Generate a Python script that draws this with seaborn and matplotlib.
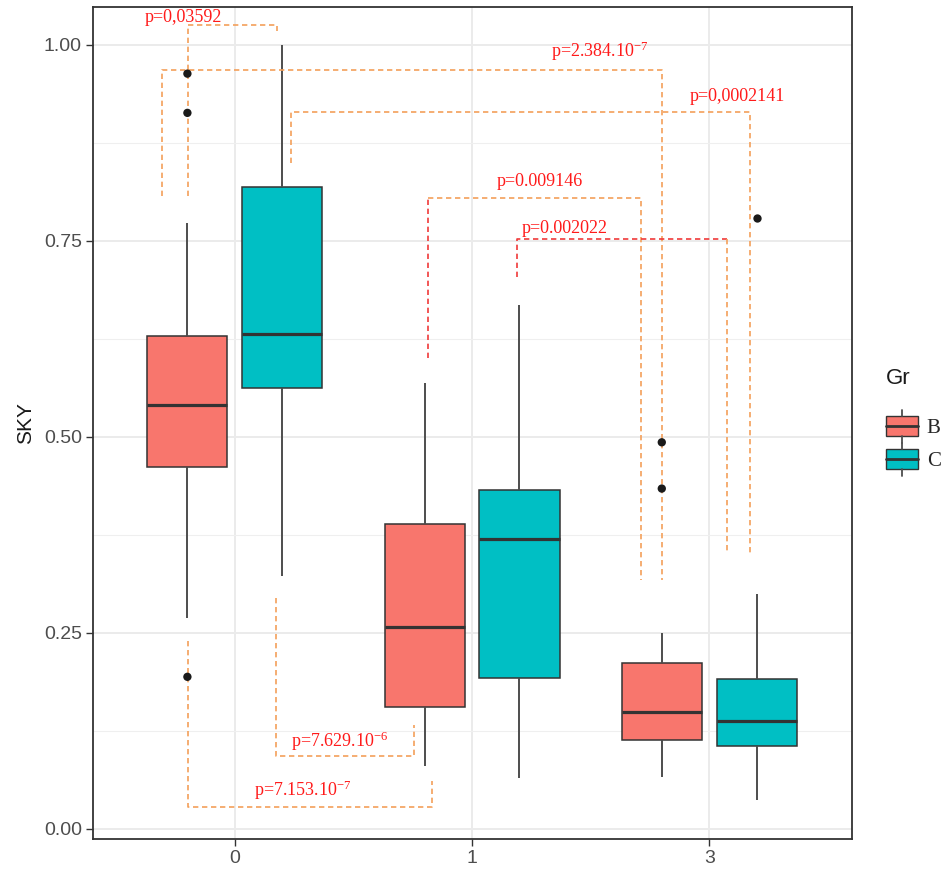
import matplotlib
matplotlib.use("Agg")
import matplotlib.pyplot as plt
import numpy as np
import pandas as pd
import seaborn as sns
from matplotlib.patches import Rectangle, Patch
from matplotlib.lines import Line2D
from matplotlib.legend_handler import HandlerBase
from matplotlib.ticker import MultipleLocator

# ---- data -------------------------------------------------------------
groups = ["0", "1", "3"]
hue_levels = ["B", "C"]

# five-number summaries per group: whisker low, Q1, median, Q3, whisker high
b_low = [0.269, 0.080, 0.066]
b_q1 = [0.462, 0.156, 0.113]
b_med = [0.540, 0.257, 0.149]
b_q3 = [0.628, 0.389, 0.211]
b_high = [0.773, 0.568, 0.250]

c_low = [0.323, 0.065, 0.037]
c_q1 = [0.562, 0.192, 0.106]
c_med = [0.631, 0.370, 0.138]
c_q3 = [0.818, 0.432, 0.191]
c_high = [0.999, 0.668, 0.300]

# outlying observations
out_group = ["0", "0", "0", "3", "3", "3"]
out_gr = ["B", "B", "B", "B", "B", "C"]
out_value = [0.963, 0.913, 0.194, 0.493, 0.434, 0.779]

# pairwise test results
p_labels = [
    "p=0,03592",
    r"p=2.384.10$^{-7}$",
    "p=0,0002141",
    "p=0.009146",
    "p=0.002022",
    r"p=7.629.10$^{-6}$",
    r"p=7.153.10$^{-7}$",
]

# ---- style ------------------------------------------------------------
sns.set_theme(style="white")
plt.rcParams["font.family"] = ["Liberation Sans", "DejaVu Sans"]
plt.rcParams["mathtext.fontset"] = "custom"
plt.rcParams["mathtext.rm"] = "Liberation Serif"
plt.rcParams["mathtext.default"] = "rm"

palette = {"B": "#F8766D", "C": "#00BFC4"}
ORANGE = "#F4A05A"
RED = "#F03A3A"
TEXT_RED = "#FF1A1A"
EDGE = "#333333"

rows = []
summaries = {"B": (b_low, b_q1, b_med, b_q3, b_high),
             "C": (c_low, c_q1, c_med, c_q3, c_high)}
for i, g in enumerate(groups):
    for lvl in hue_levels:
        for stat in summaries[lvl]:
            rows.append({"x": g, "Gr": lvl, "SKY": stat[i]})
box_df = pd.DataFrame(rows)
out_df = pd.DataFrame({"x": out_group, "Gr": out_gr, "SKY": out_value})

fig = plt.figure(figsize=(9.49, 8.73), dpi=100)
ax = fig.add_axes([0.0975, 0.039, 0.7998, 0.953])

sns.boxplot(
    data=box_df, x="x", y="SKY", hue="Gr", order=groups, hue_order=hue_levels,
    palette=palette, whis=(0, 100), width=0.8, gap=0.156, showfliers=False,
    showcaps=False, linecolor=EDGE, linewidth=1.1, saturation=1,
    medianprops=dict(linewidth=2.3, color=EDGE),
    whiskerprops=dict(linewidth=1.4, color="#4d4d4d"),
    legend=False, ax=ax, zorder=3,
)
sns.stripplot(
    data=out_df, x="x", y="SKY", hue="Gr", order=groups, hue_order=hue_levels,
    dodge=True, jitter=False, palette={"B": "#1a1a1a", "C": "#1a1a1a"},
    size=6, linewidth=0, legend=False, ax=ax, zorder=5,
)

# ---- significance brackets -------------------------------------------
bracket_paths = [
    ([-0.197, -0.197, 0.176, 0.176], [0.807, 1.025, 1.025, 1.017], ORANGE),
    ([-0.307, -0.307, 1.800, 1.800], [0.807, 0.968, 0.968, 0.317], ORANGE),
    ([0.238, 0.238, 2.174, 2.174], [0.849, 0.914, 0.914, 0.352], ORANGE),
    ([0.813, 0.813], [0.600, 0.804], RED),
    ([0.813, 1.714, 1.714], [0.804, 0.804, 0.317], ORANGE),
    ([1.189, 1.189, 2.074], [0.704, 0.752, 0.752], RED),
    ([2.074, 2.074], [0.752, 0.352], ORANGE),
    ([0.175, 0.175, 0.755, 0.755], [0.295, 0.093, 0.093, 0.133], ORANGE),
    ([-0.197, -0.197, 0.830, 0.830], [0.240, 0.028, 0.028, 0.061], ORANGE),
]
for xs, ys, col in bracket_paths:
    ax.plot(xs, ys, color=col, lw=1.2, linestyle=(0, (3.2, 2.2)), zorder=4,
            solid_joinstyle="miter")

label_x = [-0.218, 1.540, 2.118, 1.285, 1.389, 0.443, 0.285]
label_y = [1.035, 0.9915, 0.934, 0.8256, 0.766, 0.112, 0.049]
for txt, lx, ly in zip(p_labels, label_x, label_y):
    ax.text(lx, ly, txt, color=TEXT_RED, fontsize=13, family="Liberation Serif",
            ha="center", va="center", zorder=6)

# ---- axes -------------------------------------------------------------
ax.set_xlim(-0.6, 2.6)
ax.set_ylim(-0.0127, 1.048)
ax.set_yticks([0, 0.25, 0.5, 0.75, 1.0])
ax.set_yticklabels(["0.00", "0.25", "0.50", "0.75", "1.00"])
ax.yaxis.set_minor_locator(MultipleLocator(0.125))
ax.set_axisbelow(True)
ax.grid(which="major", axis="both", color="#EBEBEB", lw=1.4, zorder=0)
ax.grid(which="minor", axis="y", color="#EFEFEF", lw=0.8, zorder=0)
ax.tick_params(which="major", length=4.7, width=1.0, color=EDGE,
               labelsize=14, labelcolor="#4D4D4D", pad=3, left=True, bottom=True)
ax.tick_params(which="minor", length=0)
for sp in ax.spines.values():
    sp.set_color(EDGE)
    sp.set_linewidth(1.3)
ax.set_xlabel("")
ax.set_ylabel("SKY", fontsize=15, color="#1a1a1a", labelpad=6)
ax.set_facecolor("white")


# ---- legend with boxplot keys ------------------------------------------
class BoxKey(HandlerBase):
    def create_artists(self, legend, orig_handle, xdescent, ydescent,
                       width, height, fontsize, trans):
        x0, y0 = -xdescent, -ydescent
        face = orig_handle.get_facecolor()
        rect = Rectangle((x0, y0 + 0.2 * height), width, 0.6 * height,
                         facecolor=face, edgecolor=EDGE, lw=1.0, transform=trans)
        med = Line2D([x0, x0 + width], [y0 + 0.5 * height] * 2, color=EDGE,
                     lw=2.0, transform=trans)
        wlo = Line2D([x0 + width / 2] * 2, [y0, y0 + 0.2 * height], color="#4d4d4d",
                     lw=1.3, transform=trans)
        whi = Line2D([x0 + width / 2] * 2, [y0 + 0.8 * height, y0 + height],
                     color="#4d4d4d", lw=1.3, transform=trans)
        return [rect, wlo, whi, med]


handles = [Patch(facecolor=palette[l]) for l in hue_levels]
leg = fig.legend(handles, hue_levels, loc="upper left",
                 bbox_to_anchor=(0.9135, 0.552), frameon=False,
                 handler_map={Patch: BoxKey()}, handlelength=1.55,
                 handleheight=2.05, labelspacing=0.0, handletextpad=0.42,
                 borderpad=0.4,
                 prop={"family": "Liberation Serif", "size": 15})
fig.text(0.9335, 1 - 378 / 873, "Gr", ha="left", va="center", fontsize=16,
         color="#1a1a1a")

fig.savefig("out.png", dpi=100)
